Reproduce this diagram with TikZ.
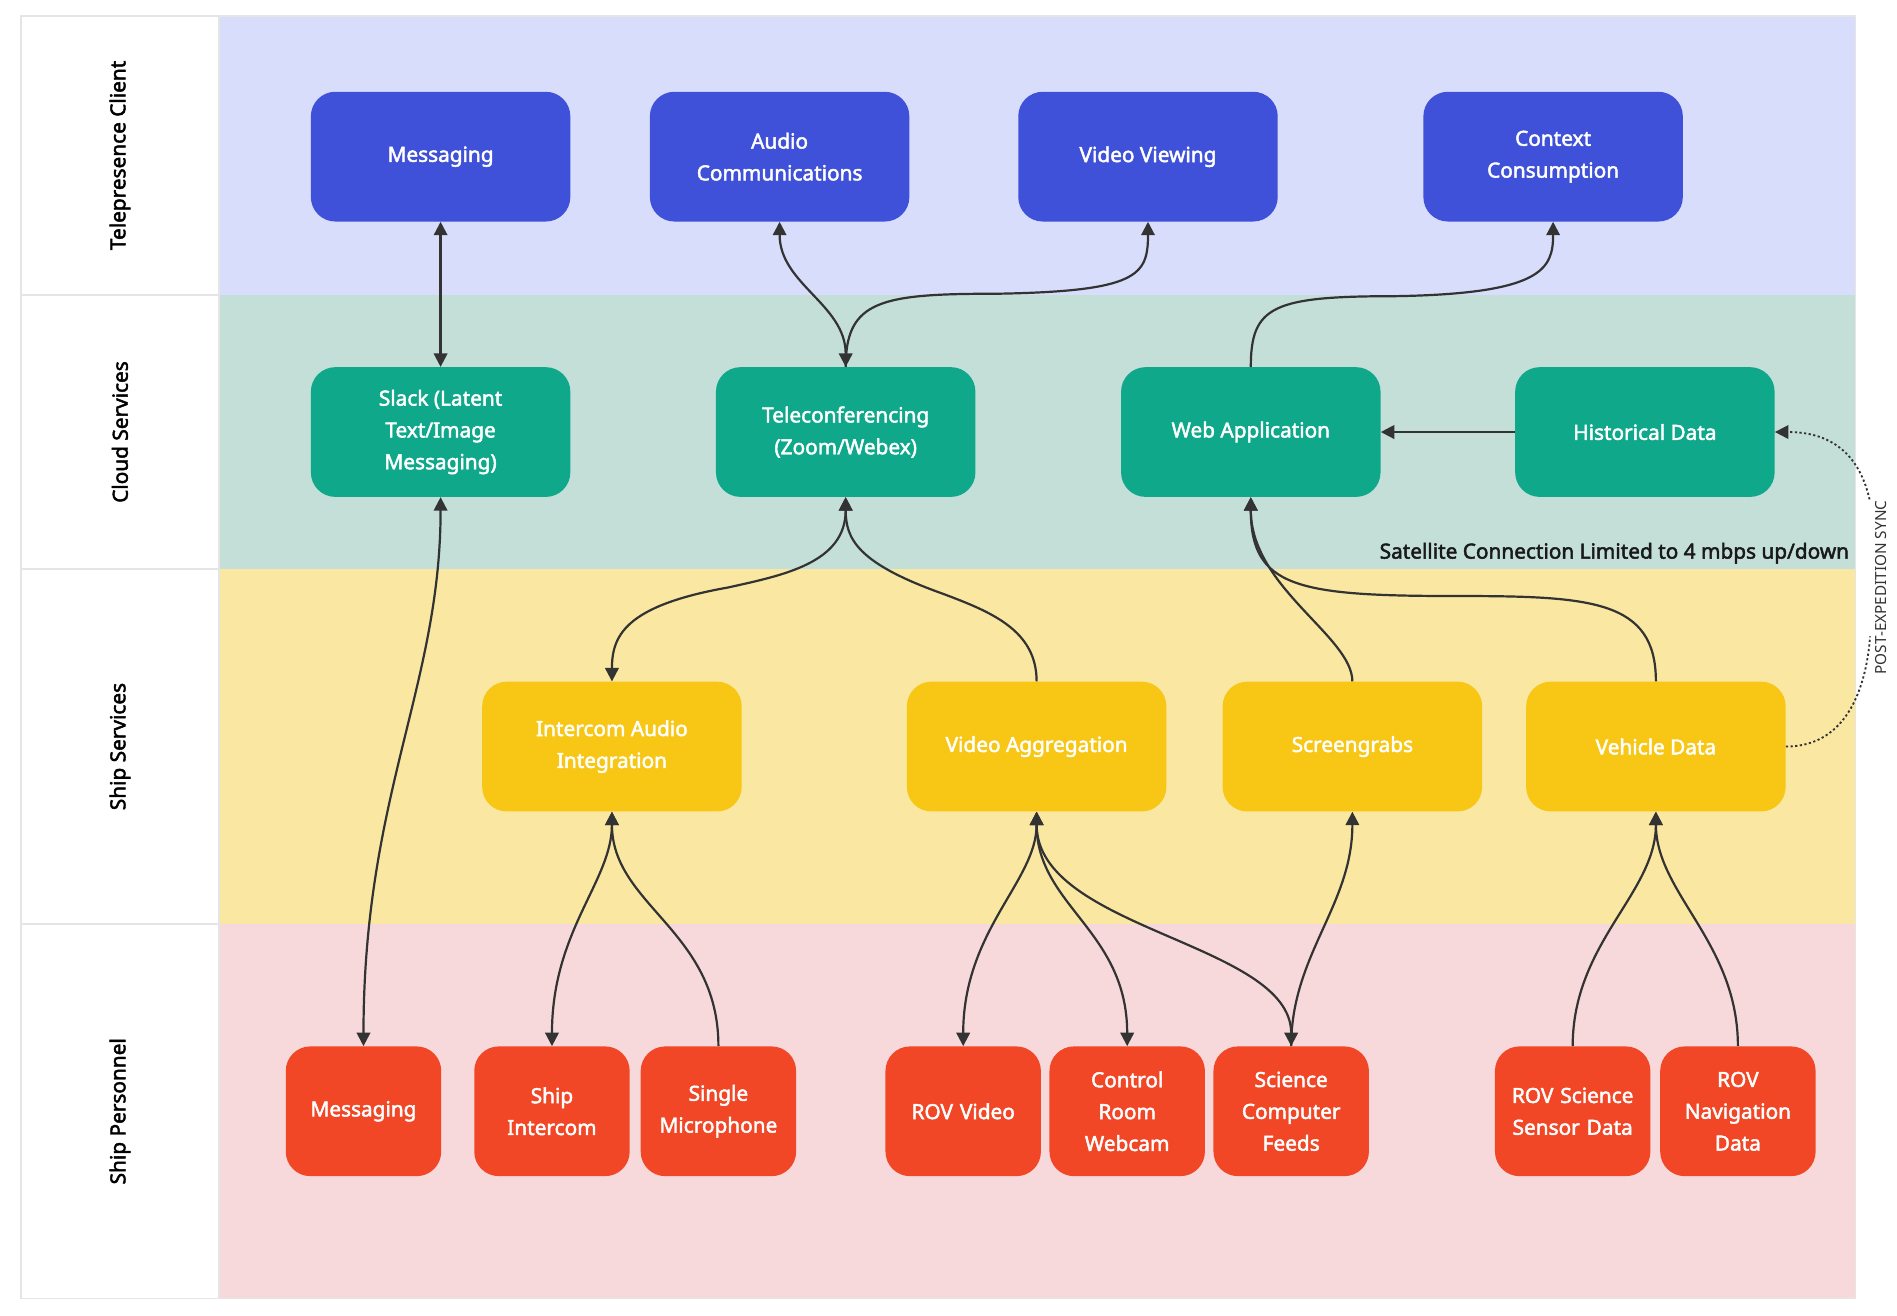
\documentclass[tikz,border=0pt]{standalone}
\usepackage{fontspec}
\setmainfont{Noto Sans}[AutoFakeBold=2.2]
\usetikzlibrary{arrows.meta}
\definecolor{laneB}{HTML}{D8DDFB}
\definecolor{laneG}{HTML}{C4DFD8}
\definecolor{laneY}{HTML}{FAE7A1}
\definecolor{laneR}{HTML}{F7D9DB}
\definecolor{boxB}{HTML}{3F51D8}
\definecolor{boxG}{HTML}{0FA88A}
\definecolor{boxY}{HTML}{F8C614}
\definecolor{boxR}{HTML}{F24726}
\definecolor{ink}{HTML}{333333}
\begin{document}
\begin{tikzpicture}[x=1pt,y=-1pt,
  box/.style={rounded corners=20pt,minimum width=212pt,minimum height=106pt,text=white,
    font=\fontsize{17}{26}\selectfont\bfseries,align=center,inner sep=2pt},
  sbox/.style={box,minimum width=127pt,text width=123pt},
  lane/.style={font=\fontsize{17}{20}\selectfont\bfseries,rotate=90,text=black},
  con/.style={draw=ink,line width=1.8pt,{Triangle[length=11pt,width=11pt]}-{Triangle[length=11pt,width=11pt]}},
  one/.style={draw=ink,line width=1.8pt,-{Triangle[length=11pt,width=11pt]}}]
\useasboundingbox (0,0) rectangle (1550,1075);
\fill[white] (0,0) rectangle (1550,1075);
% lanes
\fill[laneB] (179,13) rectangle (1516,241);
\fill[laneG] (179,241) rectangle (1516,465);
\fill[laneY] (179,465) rectangle (1516,755);
\fill[laneR] (179,755) rectangle (1516,1061);
\draw[black!10,line width=1.2pt] (17,13) rectangle (1516,1061);
\draw[black!10,line width=1.2pt] (179,13) -- (179,1061);
\foreach \yy in {241,465,755} \draw[black!10,line width=1.2pt] (17,\yy) -- (179,\yy);
\node[lane] (l1) at (98,127) {Telepresence Client};
\node[lane] (l2) at (98,353) {Cloud Services};
\node[lane] (l3) at (98,610) {Ship Services};
\node[lane] (l4) at (98,908) {Ship Personnel};
% top
\node[box,fill=boxB] (tm) at (360,128) {Messaging};
\node[box,fill=boxB] (ta) at (637,128) {Audio\\Communications};
\node[box,fill=boxB] (tv) at (938,128) {Video Viewing};
\node[box,fill=boxB] (tc) at (1269,128) {Context\\Consumption};
% cloud
\node[box,fill=boxG] (cs) at (360,353) {Slack (Latent\\Text/Image\\Messaging)};
\node[box,fill=boxG] (ct) at (691,353) {Teleconferencing\\(Zoom/Webex)};
\node[box,fill=boxG] (cw) at (1022,353) {Web Application};
\node[box,fill=boxG] (ch) at (1344,353) {Historical Data};
% ship services
\node[box,fill=boxY] (si) at (500,610) {Intercom Audio\\Integration};
\node[box,fill=boxY] (sv) at (847,610) {Video Aggregation};
\node[box,fill=boxY] (sg) at (1105,610) {Screengrabs};
\node[box,fill=boxY] (sd) at (1353,610) {Vehicle Data};
% personnel
\node[sbox,fill=boxR] (pm) at (297,908) {Messaging};
\node[sbox,fill=boxR] (pi) at (451,908) {Ship\\Intercom};
\node[sbox,fill=boxR] (pmic) at (587,908) {Single\\Microphone};
\node[sbox,fill=boxR] (pv) at (787,908) {ROV Video};
\node[sbox,fill=boxR] (pw) at (921,908) {Control\\Room\\Webcam};
\node[sbox,fill=boxR] (pf) at (1055,908) {Science\\Computer\\Feeds};
\node[sbox,fill=boxR] (ps) at (1285,908) {ROV Science\\Sensor Data};
\node[sbox,fill=boxR] (pn) at (1420,908) {ROV\\Navigation\\Data};
% labels
\node[font=\fontsize{17}{20}\selectfont\bfseries,text=black!90,anchor=east,inner sep=0pt] (sat) at (1511,452) {Satellite Connection Limited to 4 mbps up/down};
\node[font=\fontsize{12.5}{15}\selectfont,text=black!80,rotate=90] (sync) at (1537,480) {POST-EXPEDITION SYNC};
% connectors
\draw[con] (tm.south) -- (cs.north);
\draw[con] (ta.south) to[out=-90,in=90] (ct.north);
\draw[one] (ct.north) .. controls (691,245) and (720,240) .. (815,240) .. controls (930,238) and (938,225) .. (tv.south);
\draw[one] (cw.north) .. controls (1022,250) and (1040,242) .. (1140,242) .. controls (1260,240) and (1269,220) .. (tc.south);
\draw[one] (ch.west) -- (cw.east);
\draw[one,dotted,line width=1.5pt,shorten <=2pt] (sd.east) .. controls (1510,610) and (1525,560) .. (1528,520)
   (1528,410) .. controls (1520,375) and (1500,353) .. (ch.east);
\draw[con] (cs.south) .. controls (360,560) and (297,650) .. (pm.north);
\draw[con] (ct.south) .. controls (691,460) and (640,470) .. (595,480) .. controls (510,495) and (500,520) .. (si.north);
\draw[one] (sv.north) .. controls (847,515) and (810,500) .. (770,485) .. controls (700,460) and (691,440) .. (ct.south);
\draw[one] (sg.north) .. controls (1105,520) and (1022,480) .. (cw.south);
\draw[one] (sd.north) .. controls (1353,490) and (1300,487) .. (1190,487) .. controls (1060,487) and (1022,480) .. (cw.south);
\draw[con] (pi.north) .. controls (451,760) and (500,720) .. (si.south);
\draw[one] (pmic.north) .. controls (587,760) and (500,740) .. (si.south);
\draw[con] (pv.north) .. controls (787,760) and (847,720) .. (sv.south);
\draw[con] (pw.north) .. controls (921,760) and (847,740) .. (sv.south);
\draw[con] (sv.south) .. controls (847,760) and (1055,770) .. (pf.north);
\draw[one] (pf.north) .. controls (1055,780) and (1105,740) .. (sg.south);
\draw[one] (ps.north) .. controls (1285,770) and (1353,730) .. (sd.south);
\draw[one] (pn.north) .. controls (1420,770) and (1353,730) .. (sd.south);
\end{tikzpicture}
\end{document}
